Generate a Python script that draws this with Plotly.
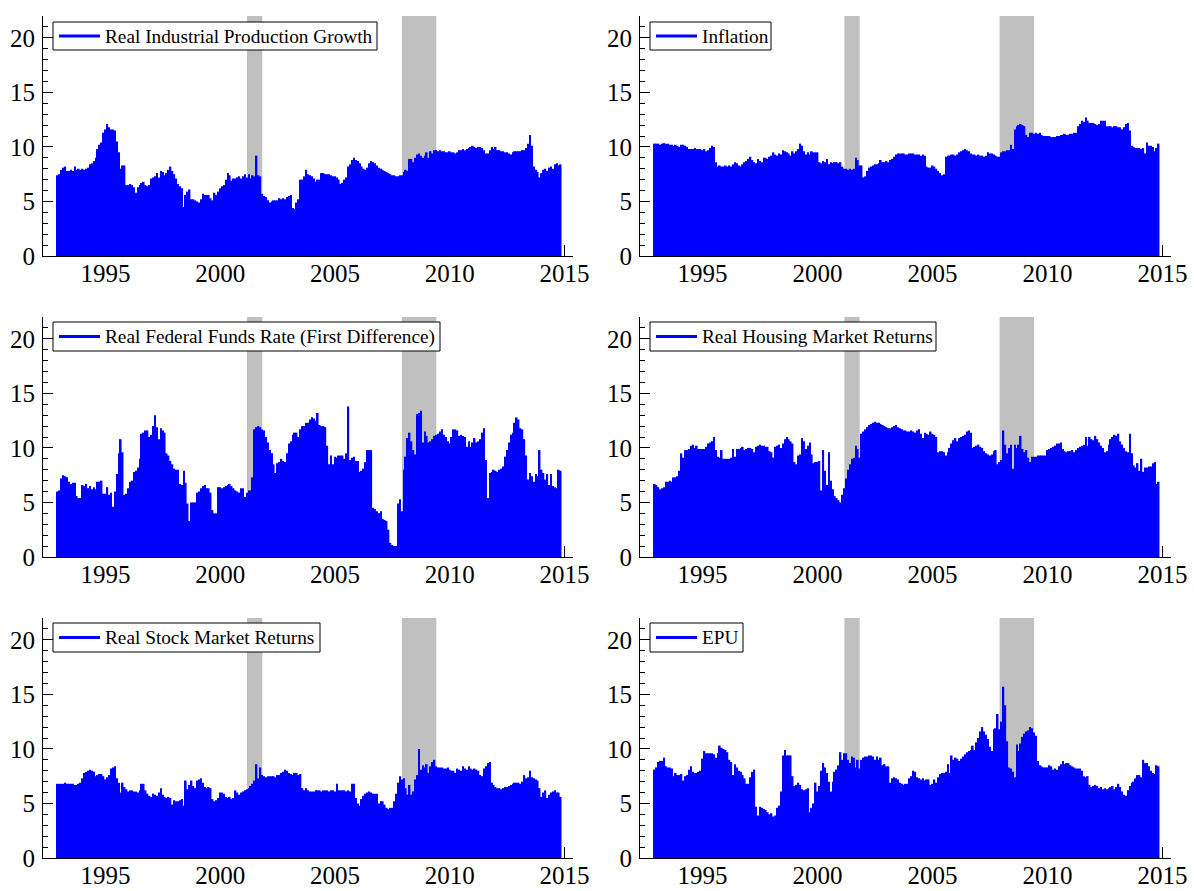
import numpy as np
import plotly.graph_objects as go

# Monthly observations, December 1992 through November 2014
START_YEAR = 1992 + 11 / 12

ip_growth = [
    7.4,
    7.5, 7.9, 8.1, 8.2, 7.8, 7.8, 7.9, 7.8, 8.2, 7.9, 8.0, 7.9,
    8.0, 7.9, 8.0, 8.1, 8.4, 8.5, 8.7, 9.0, 9.8, 10.2, 10.4, 11.3,
    11.6, 12.1, 11.8, 11.6, 11.6, 11.5, 10.5, 9.5, 8.0, 8.3, 8.3, 6.5,
    6.5, 6.6, 6.5, 6.3, 5.8, 6.3, 6.5, 6.7, 6.8, 6.5, 6.4, 6.5,
    7.1, 7.2, 7.3, 7.6, 7.2, 7.8, 7.7, 7.4, 7.6, 7.9, 8.2, 7.8,
    7.5, 7.1, 6.6, 6.4, 6.2, 4.5, 5.6, 5.9, 6.1, 5.2, 5.2, 5.1,
    5.0, 4.9, 5.2, 5.7, 5.6, 5.6, 5.6, 5.3, 5.1, 5.8, 5.6, 5.9,
    6.2, 6.4, 6.5, 7.0, 7.6, 7.4, 6.9, 7.1, 7.1, 7.2, 7.3, 7.1,
    7.3, 7.5, 7.2, 7.5, 7.1, 7.4, 7.3, 9.2, 7.4, 7.3, 5.7, 5.5,
    5.4, 5.1, 4.9, 5.0, 5.1, 5.1, 5.1, 5.3, 5.2, 5.3, 5.2, 5.4,
    5.5, 5.6, 4.4, 4.3, 4.9, 5.2, 7.0, 7.0, 7.3, 7.9, 7.5, 7.4,
    7.3, 7.1, 6.8, 7.0, 7.0, 7.6, 7.6, 7.5, 7.5, 7.5, 7.4, 7.3,
    7.3, 7.2, 7.0, 6.6, 6.7, 7.0, 7.2, 8.2, 8.4, 8.8, 9.0, 8.8,
    8.7, 8.5, 8.2, 8.0, 7.9, 8.1, 8.5, 8.7, 8.6, 8.5, 8.3, 8.1,
    8.0, 7.9, 7.8, 7.7, 7.6, 7.5, 7.4, 7.4, 7.3, 7.3, 7.4, 7.4,
    7.7, 7.9, 7.8, 8.9, 8.9, 8.6, 9.0, 9.3, 9.4, 9.2, 9.0, 9.2,
    9.5, 9.0, 9.6, 9.4, 9.7, 9.7, 9.6, 9.7, 9.6, 9.6, 9.5, 9.5,
    9.6, 9.5, 9.5, 9.4, 9.5, 9.7, 9.7, 9.8, 9.7, 9.8, 9.9, 10.0,
    10.1, 10.0, 9.9, 10.0, 10.0, 9.9, 9.7, 9.4, 9.4, 9.7, 10.0, 9.8,
    10.0, 9.7, 9.7, 9.6, 9.6, 9.5, 9.5, 9.4, 9.3, 9.5, 9.6, 9.6,
    9.6, 9.6, 9.7, 9.7, 9.9, 10.3, 11.1, 10.1, 8.2, 7.9, 7.7, 7.2,
    7.6, 7.9, 8.0, 7.8, 8.1, 8.2, 8.0, 8.4, 8.5, 8.3, 8.4,
]

inflation = [
    10.3, 10.3, 10.3, 10.2, 10.3, 10.35, 10.3, 10.3, 10.2, 10.2, 10.1, 10.2,
    10.1, 10.0, 10.2, 10.2, 10.1, 10.0, 9.8, 9.8, 9.8, 9.9, 9.8, 9.8,
    9.8, 9.7, 9.8, 9.6, 9.7, 9.9, 10.1, 10.0, 8.6, 8.2, 8.3, 8.2,
    8.2, 8.3, 8.2, 8.3, 8.2, 8.4, 8.6, 8.5, 8.3, 8.2, 8.4, 8.6,
    8.7, 8.9, 9.1, 8.8, 8.6, 8.5, 8.9, 8.7, 8.6, 9.0, 9.0, 8.9,
    9.1, 9.2, 9.5, 9.3, 9.2, 9.4, 9.3, 9.7, 9.6, 9.5, 9.4, 9.2,
    9.6, 9.4, 9.6, 9.8, 10.3, 10.1, 9.6, 9.3, 9.5, 9.3, 9.6, 9.5,
    9.5, 9.5, 8.6, 8.5, 8.7, 8.6, 8.9, 8.4, 8.6, 8.5, 8.6, 8.6,
    8.5, 8.6, 8.2, 8.0, 8.0, 7.9, 8.0, 7.9, 8.0, 9.0, 8.8, 8.3,
    8.3, 7.2, 7.3, 7.8, 8.1, 8.2, 8.3, 8.4, 8.4, 8.5, 8.8, 8.6,
    8.6, 8.7, 8.6, 8.8, 8.9, 9.1, 9.3, 9.4, 9.4, 9.4, 9.4, 9.3,
    9.3, 9.4, 9.4, 9.4, 9.3, 9.3, 9.3, 9.2, 9.3, 9.2, 8.2, 8.1,
    8.1, 8.3, 8.2, 8.0, 7.8, 7.6, 7.4, 7.5, 9.1, 9.2, 9.2, 9.3,
    9.3, 9.2, 9.3, 9.5, 9.6, 9.7, 9.8, 9.7, 9.6, 9.4, 9.3, 9.3,
    9.2,
    9.3, 9.2, 9.2, 9.1, 9.2, 9.5, 9.4, 9.4, 9.3, 9.2, 9.1, 9.1,
    9.5, 9.6, 9.6, 9.7, 9.7, 10.2, 9.8, 11.6, 11.9, 12.0, 12.1, 12.0,
    11.9, 11.1, 10.9, 11.3, 11.3, 11.2, 11.3, 11.2, 11.3, 11.1, 11.0, 11.0,
    11.0, 11.0, 10.9, 10.9, 10.9, 11.0, 11.0, 11.1, 11.1, 11.2, 11.1, 11.1,
    11.2, 11.2, 11.3, 11.3, 11.9, 12.1, 12.4, 12.3, 12.7, 12.4, 12.2, 12.2,
    12.2, 12.1, 12.0, 12.1, 12.4, 12.4, 12.4, 11.9, 11.9, 11.9, 11.8, 11.9,
    11.9, 11.8, 11.8, 11.6, 11.8, 12.1, 12.2, 11.5, 10.1, 10.0, 9.9, 9.9,
    9.9, 9.8, 9.9, 9.4, 10.4, 10.1, 10.1, 10.0, 9.6, 9.9, 10.3,
]

fed_funds = [
    6.0,
    6.1, 7.2, 7.5, 7.4, 7.3, 6.9, 6.7, 6.8, 6.8, 5.6, 5.4, 5.4,
    6.6, 6.5, 6.7, 6.3, 6.5, 6.2, 6.4, 6.2, 6.9, 6.9, 7.0, 5.8,
    5.8, 6.4, 5.7, 5.9, 4.6, 6.0, 7.6, 9.5, 10.8, 9.6, 5.7, 5.8,
    6.3, 6.9, 7.0, 7.8, 7.9, 8.2, 9.0, 11.3, 11.4, 11.6, 11.6, 11.0,
    11.2, 12.0, 13.0, 11.9, 10.8, 11.8, 11.6, 11.4, 9.5, 9.3, 8.8, 8.5,
    8.1, 8.0, 8.0, 6.7, 6.6, 7.9, 6.8, 4.9, 3.3, 5.0, 5.0, 5.0,
    5.9, 6.0, 6.3, 6.5, 6.6, 6.3, 6.3, 5.9, 4.3, 4.0, 4.0, 6.4,
    6.4, 6.3, 6.4, 6.5, 6.6, 6.7, 6.5, 6.3, 6.1, 6.0, 5.9, 6.3,
    6.3, 5.5, 5.9, 6.1, 6.1, 7.3, 11.7, 11.9, 12.0, 11.9, 11.7, 11.6,
    11.0, 10.5, 9.8, 9.5, 8.5, 7.7, 8.6, 8.7, 9.0, 8.8, 8.7, 9.5,
    10.4, 10.6, 11.2, 11.4, 11.4, 11.0, 11.7, 12.0, 12.0, 12.3, 12.3, 12.6,
    12.8, 12.7, 12.5, 13.2, 12.1, 12.0, 12.0, 11.9, 10.2, 8.5, 9.3, 8.5,
    9.2, 9.1, 9.3, 9.3, 9.3, 9.0, 9.5, 13.8, 8.9, 9.1, 9.2, 8.8,
    8.8, 7.8, 7.9, 8.1, 8.7, 9.8, 9.8, 9.8, 4.5, 4.4, 4.2, 4.0,
    4.2, 3.5, 3.4, 3.3, 2.5, 1.3, 1.1, 1.0, 1.0, 4.9, 5.3, 4.2,
    8.0, 9.2, 10.9, 11.4, 10.6, 9.8, 9.4, 13.1, 13.2, 13.4, 10.5, 11.5,
    11.1, 10.5, 10.6, 10.8, 11.1, 11.2, 11.3, 11.5, 11.7, 11.2, 11.0, 10.6,
    10.4, 11.0, 11.7, 11.7, 11.6, 11.1, 11.2, 11.1, 11.0, 10.1, 10.6, 10.1,
    10.5, 10.9, 10.5, 10.6, 10.8, 11.4, 11.8, 8.9, 5.4, 7.7, 7.8, 8.0,
    7.9, 7.8, 8.0, 8.1, 8.3, 9.2, 9.8, 10.5, 11.2, 11.4, 12.3, 12.8,
    12.6, 11.8, 11.7, 10.8, 9.3, 7.1, 7.7, 7.4, 6.9, 7.6, 7.4, 9.8,
    8.0, 7.7, 7.1, 7.6, 6.6, 7.6, 6.5, 6.4, 6.3, 8.0, 7.9,
]

housing = [
    6.7, 6.6, 6.4, 6.2, 6.3, 6.4, 6.9, 6.9, 7.0, 6.9, 7.3, 7.3,
    7.4, 7.9, 9.5, 9.1, 9.8, 9.8, 9.9, 10.2, 10.3, 10.0, 10.2, 9.9,
    9.9, 9.9, 9.9, 10.1, 10.4, 10.5, 10.6, 11.0, 9.8, 9.2, 9.1, 9.8,
    9.0, 9.0, 9.0, 9.0, 9.1, 9.9, 9.2, 9.9, 9.9, 10.0, 10.1, 9.8,
    9.9, 10.0, 10.0, 9.9, 9.6, 10.1, 10.2, 10.3, 10.2, 10.2, 10.1, 10.1,
    9.7, 9.6, 9.1, 10.1, 10.2, 10.3, 10.0, 10.4, 10.8, 11.0, 10.8, 10.6,
    10.4, 8.7, 8.5, 9.3, 9.4, 10.9, 10.6, 9.9, 10.2, 10.5, 9.4, 8.6,
    8.7, 8.7, 8.8, 6.1, 9.8, 7.9, 6.6, 9.6, 7.0, 6.2, 5.6, 5.4,
    5.2, 5.0, 5.7, 6.3, 7.2, 8.0, 8.5, 9.0, 9.1, 10.2, 9.9, 9.1,
    11.3, 11.5, 11.7, 11.9, 12.1, 12.2, 12.3, 12.4, 12.3, 12.3, 12.2,
    12.1, 12.0, 11.9, 11.8, 11.8, 11.9, 12.0, 12.1, 11.9, 11.8, 11.7, 11.6,
    11.6, 11.5, 11.5, 11.6, 11.5, 11.4, 11.6, 11.7, 11.3, 10.9, 11.4, 11.3,
    11.2, 11.5, 11.3, 11.2, 11.0, 9.6, 9.7, 9.7, 9.6, 9.3, 9.6, 10.0,
    10.4, 10.7, 10.9, 10.6, 10.9, 11.0, 11.1, 11.2, 11.5, 11.6, 11.4, 10.0,
    10.1, 10.2, 10.3, 10.1, 10.0, 9.7, 9.5, 9.4, 9.3, 9.4, 9.7, 9.8,
    8.5, 8.7, 8.9, 11.6, 10.3, 9.5, 10.0, 10.3, 8.1, 10.3, 10.0, 10.3,
    11.1, 9.9, 9.6, 9.8, 9.1, 8.7, 9.2, 9.2, 9.2, 9.3, 9.3, 9.3,
    9.3, 9.3, 9.8, 9.9, 10.0, 10.1, 10.2, 10.4, 10.4, 10.5, 9.9, 9.7,
    9.6, 9.7, 9.7, 9.8, 9.6, 9.8, 10.0, 10.1, 10.2, 10.3, 11.0, 10.2,
    11.0, 10.8, 10.7, 11.1, 10.8, 10.5, 10.2, 10.0, 9.6, 9.7, 10.3, 10.8,
    11.0, 11.2, 11.1, 11.3, 10.6, 10.3, 10.0, 9.7, 9.6, 11.3, 9.5, 8.4,
    8.2, 8.6, 7.9, 9.0, 7.8, 8.2, 8.2, 8.3, 8.3, 8.6, 8.7, 6.7,
    6.9,
]

stocks = [
    6.8, 6.8, 6.8, 6.8, 6.9, 6.8, 6.8, 6.8, 6.8, 6.7, 6.7, 6.8,
    6.9, 7.3, 7.8, 7.9, 8.0, 8.1, 8.0, 7.9, 7.5, 7.6, 7.7, 7.7,
    7.5, 7.2, 7.4, 7.6, 8.2, 8.3, 8.4, 7.3, 6.9, 6.0, 6.9, 6.5,
    6.3, 6.1, 6.2, 6.2, 6.1, 6.1, 6.0, 6.2, 6.8, 6.8, 6.2, 5.9,
    5.7, 5.6, 5.9, 5.8, 5.7, 6.0, 6.4, 5.8, 5.6, 5.5, 5.6, 5.5,
    4.9, 5.3, 5.2, 5.2, 5.3, 5.4, 4.8, 7.1, 6.3, 6.7, 7.1, 6.6,
    6.4, 7.1, 7.2, 7.3, 6.9, 6.5, 6.4, 6.5, 6.4, 5.4, 5.2, 5.3,
    5.5, 6.0, 6.0, 5.9, 5.6, 5.5, 5.6, 5.4, 5.5, 6.2, 6.0, 5.8,
    6.0, 6.1, 6.2, 6.3, 6.4, 6.6, 6.8, 7.1, 8.6, 7.3, 8.3, 7.6,
    7.5, 7.4, 7.5, 7.5, 7.5, 7.5, 7.4, 7.6, 7.6, 7.8, 7.9, 8.1,
    8.0, 7.8, 7.7, 7.6, 7.8, 7.8, 7.6, 7.7, 6.4, 6.2, 6.4, 6.2,
    6.1, 6.1, 6.1, 6.2, 6.2, 6.2, 6.1, 6.2, 6.2, 6.2, 6.1, 6.2,
    6.2, 6.1, 6.8, 6.2, 6.2, 6.2, 6.2, 6.1, 6.2, 6.1, 6.8, 6.8,
    5.5, 5.0, 4.8, 5.4, 5.7, 5.9, 6.0, 6.1, 6.0, 5.9, 5.9, 5.9,
    5.0, 5.2, 5.2, 4.9, 4.6, 4.5, 4.6, 4.6, 5.2, 5.9, 6.9, 7.5,
    7.2, 7.3, 6.4, 5.8, 6.7, 5.8, 6.1, 7.2, 7.6, 10.0, 8.1, 8.5,
    8.3, 8.6, 7.8, 8.4, 8.8, 9.0, 8.4, 8.3, 8.3, 8.3, 8.2, 8.2,
    8.3, 8.1, 8.0, 8.0, 7.8, 8.2, 8.1, 8.0, 8.4, 8.2, 8.1, 8.4,
    8.2, 8.1, 8.2, 8.1, 8.0, 7.6, 7.5, 8.2, 8.4, 8.7, 8.8, 6.9,
    6.7, 6.5, 6.4, 6.4, 6.3, 6.4, 6.5, 6.5, 6.6, 6.7, 6.8, 6.9,
    6.9, 6.9, 6.8, 7.0, 7.6, 7.3, 7.4, 8.0, 7.4, 7.3, 7.2, 7.1,
    6.4, 5.6, 6.0, 6.2, 5.5, 5.8, 6.0, 6.1, 6.2, 6.0, 6.0, 5.6,
]

epu = [
    8.1, 8.3, 8.8, 8.9, 8.9, 9.2, 8.4, 8.3, 8.3, 8.2, 7.5, 7.8,
    7.6, 7.6, 7.7, 7.1, 7.5, 7.6, 8.1, 8.4, 7.9, 7.8, 7.8, 7.9,
    8.0, 9.1, 9.8, 9.6, 9.6, 9.6, 9.6, 9.5, 9.2, 9.6, 10.3, 10.1,
    10.0, 9.9, 9.7, 9.0, 8.8, 7.6, 8.6, 8.3, 8.0, 7.9, 7.6, 7.3,
    6.8, 6.8, 7.4, 7.9, 8.1, 4.7, 3.9, 4.7, 4.6, 4.5, 4.4, 4.2,
    4.0, 4.1, 3.8, 3.9, 4.6, 4.8, 6.1, 9.4, 9.9, 9.4, 9.4, 9.4,
    7.5, 6.6, 6.7, 6.9, 6.7, 6.3, 6.2, 6.3, 6.4, 4.2, 4.6, 5.0,
    6.9, 6.1, 6.6, 8.0, 8.7, 8.3, 7.8, 7.0, 6.1, 7.0, 7.9, 8.1,
    8.5, 9.7, 9.0, 9.6, 9.6, 9.0, 8.7, 9.3, 9.2, 8.3, 9.0, 8.2,
    9.0, 9.2, 9.3, 9.3, 9.4, 9.4, 9.3, 9.0, 9.3, 9.0, 9.2, 8.5,
    8.6, 8.4, 8.4, 6.9, 7.3, 7.4, 7.3, 7.2, 6.9, 6.8, 6.7, 6.8,
    6.8, 7.3, 7.5, 8.0, 7.9, 7.4, 7.3, 7.2, 7.3, 7.1, 7.2, 7.2,
    6.7, 6.8, 7.2, 6.9, 7.4, 7.7, 7.8, 7.8, 7.9, 8.6, 7.8, 9.4,
    9.0, 9.2, 9.1, 8.9, 9.1, 9.3, 9.5, 9.7, 9.8, 9.9, 10.3, 9.9,
    10.6, 11.0, 11.6, 12.0, 11.6, 11.3, 10.9, 10.2, 9.8, 11.8, 11.9, 13.2,
    11.8, 12.5, 15.7, 14.0, 10.7, 8.3, 8.2, 7.9, 7.4, 10.4, 9.8, 10.5,
    11.1, 11.4, 11.6, 11.7, 12.0, 11.9, 11.5, 11.2, 8.9, 8.5, 8.4, 8.3,
    8.3, 8.3, 8.5, 8.4, 8.1, 8.2, 8.1, 8.4, 8.6, 8.9, 8.6, 8.7,
    8.7, 8.5, 8.4, 8.3, 8.2, 8.2, 8.2, 8.0, 7.5, 7.4, 7.5, 6.7,
    6.5, 6.6, 6.7, 6.6, 6.4, 6.5, 6.3, 6.4, 6.3, 6.4, 6.5,
    6.6, 6.3, 6.5, 6.8, 6.5, 6.1, 5.8, 5.7, 6.2, 6.6, 6.9, 7.0,
    7.3, 7.6, 7.6, 7.4, 9.0, 8.7, 8.7, 8.4, 8.0, 7.8, 7.7, 8.5,
    8.4,
]

series_labels = [
    "Real Industrial Production Growth",
    "Inflation",
    "Real Federal Funds Rate (First Difference)",
    "Real Housing Market Returns",
    "Real Stock Market Returns",
    "EPU",
]
series_values = [ip_growth, inflation, fed_funds, housing, stocks, epu]

# NBER recessions: March-November 2001, December 2007-June 2009
recession_start = [2001 + 2 / 12, 2007 + 11 / 12]
recession_end = [2001 + 10 / 12, 2009 + 5 / 12]

year_ticks = [1995, 2000, 2005, 2010, 2015]
value_ticks = [0, 5, 10, 15, 20]

# ---- layout geometry (pixels on a 1194 x 891 page) ----
W, H = 1194, 891
COL_PX = [(43, 573), (640, 1171)]
ROW_PX = [(16, 256), (317, 557), (618, 858)]
# legend boxes: left, top, right, bottom
LEGEND_BOX = [
    (53, 22, 377, 50), (650, 22, 771, 50),
    (53, 322, 440, 351), (650, 322, 936, 351),
    (53, 623, 320, 652), (650, 623, 743, 652),
]
X_RANGE = [1992.28, 2015.37]
Y_RANGE = [0, 22]

FONT = "Liberation Serif, Times New Roman, serif"
BLUE = "#0000ff"
SHADE = "#c0c0c0"


def px(xp):
    return xp / W


def py(yp):
    return 1 - yp / H


fig = go.Figure()
layout = dict(
    width=W, height=H,
    margin=dict(l=0, r=0, t=0, b=0),
    paper_bgcolor="white", plot_bgcolor="white",
    font=dict(family=FONT, size=25, color="black"),
    bargap=0.15,
    showlegend=False,
    template="none",
    shapes=[],
    annotations=[],
)

for k, (label, vals) in enumerate(zip(series_labels, series_values)):
    row, col = divmod(k, 2)
    sfx = "" if k == 0 else str(k + 1)
    xa, ya = "x" + sfx, "y" + sfx

    months = np.arange(len(vals))
    x = START_YEAR + months / 12.0

    fig.add_trace(go.Bar(
        x=x, y=vals, xaxis=xa, yaxis=ya,
        marker=dict(color=BLUE, line=dict(width=0)),
        showlegend=False, name=label,
    ))

    x0p, x1p = COL_PX[col]
    y0p, y1p = ROW_PX[row]
    layout["xaxis" + sfx] = dict(
        domain=[px(x0p), px(x1p)], range=X_RANGE, anchor=ya,
        showline=True, linecolor="black", linewidth=1,
        ticks="inside", ticklen=11, tickwidth=1, tickcolor="black",
        tickmode="array", tickvals=year_ticks,
        ticklabelstandoff=-5,
        showgrid=False, zeroline=False, layer="below traces",
        tickfont=dict(family=FONT, size=25, color="black"),
        automargin=False, fixedrange=True,
    )
    layout["yaxis" + sfx] = dict(
        domain=[py(y1p), py(y0p)], range=Y_RANGE, anchor=xa,
        showline=True, linecolor="black", linewidth=1,
        ticks="inside", ticklen=10, tickwidth=1, tickcolor="black",
        tickmode="array", tickvals=value_ticks,
        ticklabelstandoff=2,
        minor=dict(ticks="inside", ticklen=5, tickwidth=1, tickcolor="black",
                   dtick=1, showgrid=False),
        showgrid=False, zeroline=False,
        tickfont=dict(family=FONT, size=25, color="black"),
        automargin=False, fixedrange=True,
    )

    # recession shading
    for a, b in zip(recession_start, recession_end):
        layout["shapes"].append(dict(
            type="rect", xref=xa, yref=ya, x0=a, x1=b,
            y0=Y_RANGE[0], y1=Y_RANGE[1],
            fillcolor=SHADE, line=dict(width=0), layer="below",
        ))

    # boxed key with a line sample
    bl, bt, br, bb = LEGEND_BOX[k]
    cy = (bt + bb) / 2
    layout["shapes"].append(dict(
        type="rect", xref="paper", yref="paper",
        x0=px(bl), x1=px(br), y0=py(bb), y1=py(bt),
        fillcolor="white", line=dict(color="black", width=1), layer="above",
    ))
    layout["shapes"].append(dict(
        type="line", xref="paper", yref="paper",
        x0=px(bl + 6), x1=px(bl + 47), y0=py(cy), y1=py(cy),
        line=dict(color=BLUE, width=3), layer="above",
    ))
    layout["annotations"].append(dict(
        xref="paper", yref="paper", x=px(bl + 50), y=py(cy),
        xanchor="left", yanchor="middle", showarrow=False,
        text=label, font=dict(family=FONT, size=19.3, color="black"),
    ))

fig.update_layout(**layout)
fig.write_html("out.html", config={"displayModeBar": False})
